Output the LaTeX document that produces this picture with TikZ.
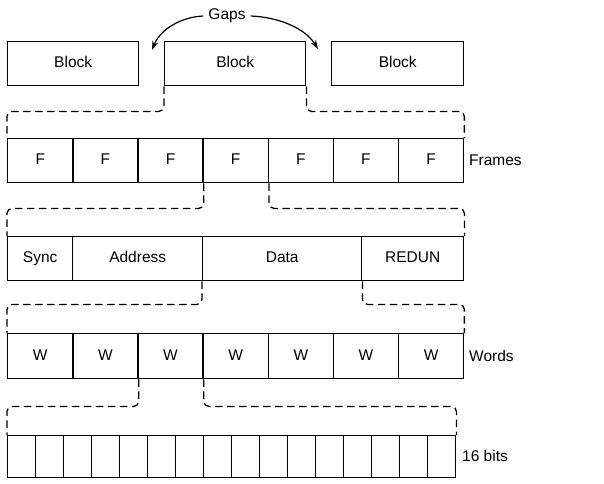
\documentclass[tikz,border=0pt]{standalone}
\usepackage{fontspec}
\setmainfont{Liberation Sans}
\usetikzlibrary{arrows.meta}
\begin{document}
\begin{tikzpicture}[x=1pt,y=-1pt,
  box/.style={draw, line width=1.4pt, inner sep=0pt, anchor=north west, text height=11.5pt, text depth=3.5pt, font=\fontsize{15.5}{17}\selectfont},
  brk/.style={draw, line width=1.3pt, dash pattern=on 7.5pt off 4.5pt, rounded corners=5pt},
  lbl/.style={anchor=west, inner sep=0pt, font=\fontsize{15.5}{17}\selectfont},
  gap/.style={line width=1.2pt, -{Stealth[length=9pt,width=6pt]}}]
\useasboundingbox (0,0) rectangle (604,483);
% Blocks
\node[box, minimum width=131pt, minimum height=44pt] (b1) at (7,41) {Block};
\node[box, minimum width=141pt, minimum height=44pt] (b2) at (164,41) {Block};
\node[box, minimum width=132pt, minimum height=44pt] (b3) at (331,41) {Block};
% Gaps
\node[lbl, anchor=center] (gaps) at (227,16) {Gaps};
\coordinate (gl) at (152,50);
\coordinate (gr) at (318,49);
\draw[gap] ([xshift=-5pt]gaps.west) .. controls (180,17) and (160,30) .. (gl);
\draw[gap] ([xshift=5pt]gaps.east) .. controls (278,17) and (305,28) .. (gr);
% Frames
\foreach \i in {1,...,7}
  \node[box, minimum width=65.14pt, minimum height=44pt] (f\i) at ({7+(\i-1)*65.14},138) {F};
\node[lbl] (frames) at (469,160) {Frames};
% Data row
\node[box, minimum width=65pt, minimum height=44pt] (sync) at (7,236) {Sync};
\node[box, minimum width=130pt, minimum height=44pt] (addr) at (72,236) {Address};
\node[box, minimum width=159pt, minimum height=44pt] (data) at (202,236) {Data};
\node[box, minimum width=102pt, minimum height=44pt] (redun) at (361,236) {REDUN};
% Words
\foreach \i in {1,...,7}
  \node[box, minimum width=65.14pt, minimum height=45pt] (w\i) at ({7+(\i-1)*65.14},333) {W};
\node[lbl] (words) at (469,356) {Words};
% Bits
\foreach \i in {1,...,16}
  \node[box, minimum width=28pt, minimum height=42pt] (bit\i) at ({7+(\i-1)*28},435) {};
\node[lbl] (bits) at (462,456) {16 bits};
% Brackets
\draw[brk] (b2.south west) -- ++(0,25) -| (f1.north west);
\draw[brk] (b2.south east) -- ++(0,25) -| (f7.north east);
\draw[brk] (f3.south east) -- ++(0,25) -| (sync.north west);
\draw[brk] (f4.south east) -- ++(0,25) -| (redun.north east);
\draw[brk] (data.south west) -- ++(0,23) -| (w1.north west);
\draw[brk] (data.south east) -- ++(0,23) -| (w7.north east);
\draw[brk] (w2.south east) -- ++(0,27) -| (bit1.north west);
\draw[brk] (w3.south east) -- ++(0,27) -| (bit16.north east);
\end{tikzpicture}
\end{document}
